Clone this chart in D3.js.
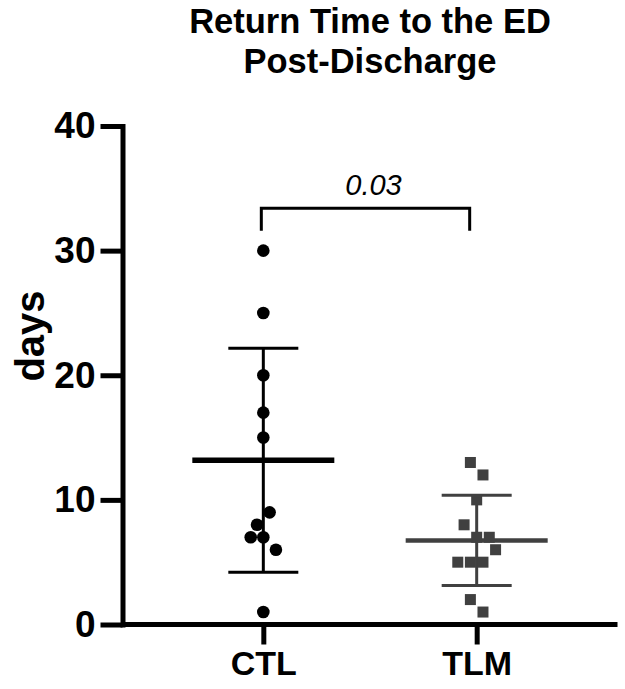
<!DOCTYPE html>
<html>
<head>
<meta charset="utf-8">
<script src="https://cdn.jsdelivr.net/npm/d3@7"></script>
<style>
  html, body { margin: 0; padding: 0; background: #fff; }
  svg { display: block; font-family: "Liberation Sans", Arial, sans-serif; }
</style>
</head>
<body>
<svg id="chart" width="625" height="689"></svg>
<script>
// ---- data ----
const categories = ["CTL", "TLM"];
const ctlValues = [30, 25, 20, 17, 15, 9, 8, 7, 7, 6, 1];
const tlmValues = [13, 12, 10, 8, 7, 7, 6, 5, 5, 5, 2, 1];
// horizontal dodge slots of the scatter points (as laid out in the reference)
const ctlSlots = [0, 0, 0, 0, 0, 1, -1, -2, 0, 2, 0];
const tlmSlots = [-1, 1, 0, -2, 0, 2, 3, -3, -1, 1, -1, 1];
const yTicks = [0, 10, 20, 30, 40];
const titleLines = ["Return Time to the ED", "Post-Discharge"];
const yLabel = "days";
const pValue = "0.03";
const bracketLevel = 33.4;   // in days
const bracketLeg = 31.6;     // in days

// ---- layout ----
const svg = d3.select("#chart");
const axisX = 122.5, axisY = 624.5, topY = 126, rightX = 617.5;

const y = d3.scaleLinear().domain([0, 40]).range([axisY, topY]);
const x = d3.scalePoint().domain(categories).range([axisX, rightX]).padding(0.66);
const slotW = 6.3;

// title (two separate lines)
svg.selectAll("text.title").data(titleLines).join("text")
  .attr("class", "title")
  .attr("x", 370).attr("y", (d, i) => 33 + i * 40)
  .attr("text-anchor", "middle")
  .style("font-size", "34.5px").style("font-weight", "bold")
  .text(d => d);

// y axis
const yAxis = svg.append("g")
  .attr("transform", `translate(${axisX},0)`)
  .call(d3.axisLeft(y).tickValues(yTicks).tickSize(22).tickSizeOuter(0).tickPadding(5));
yAxis.select(".domain").attr("stroke", "#000").attr("stroke-width", 5).attr("stroke-linecap", "square");
yAxis.selectAll(".tick line").attr("stroke", "#000").attr("stroke-width", 5);
yAxis.selectAll(".tick text")
  .style("font-size", "37px").style("font-weight", "bold")
  .style("font-family", "'Liberation Sans', Arial, sans-serif").attr("fill", "#000");

// x axis
const xAxis = svg.append("g")
  .attr("transform", `translate(0,${axisY})`)
  .call(d3.axisBottom(x).tickSize(20).tickSizeOuter(0).tickPadding(6));
xAxis.select(".domain").attr("stroke", "#000").attr("stroke-width", 5)
  .attr("d", `M${axisX},0H${rightX}`);
xAxis.selectAll(".tick line").attr("stroke", "#000").attr("stroke-width", 5);
xAxis.selectAll(".tick text")
  .style("font-size", "34px").style("font-weight", "bold")
  .style("font-family", "'Liberation Sans', Arial, sans-serif").attr("fill", "#000");

// y label
svg.append("text")
  .attr("transform", `translate(44,336) rotate(-90)`)
  .attr("text-anchor", "middle")
  .style("font-size", "40px").style("font-weight", "bold")
  .text(yLabel);

// groups
const groups = [
  { name: "CTL", values: ctlValues, slots: ctlSlots, color: "#000", shape: "circle", meanW: 5.5 },
  { name: "TLM", values: tlmValues, slots: tlmSlots, color: "#404040", shape: "square", meanW: 4.5 }
];

groups.forEach(g => {
  const cx = x(g.name);
  const m = d3.mean(g.values);
  const sd = d3.deviation(g.values);
  const gg = svg.append("g");
  // error bar
  gg.append("line").attr("x1", cx).attr("x2", cx).attr("y1", y(m + sd)).attr("y2", y(m - sd))
    .attr("stroke", g.color).attr("stroke-width", 3);
  [m + sd, m - sd].forEach(v => {
    gg.append("line").attr("x1", cx - 35).attr("x2", cx + 35).attr("y1", y(v)).attr("y2", y(v))
      .attr("stroke", g.color).attr("stroke-width", 3);
  });
  // points
  g.values.forEach((v, i) => {
    const px = cx + g.slots[i] * slotW;
    if (g.shape === "circle") {
      gg.append("circle").attr("cx", px).attr("cy", y(v)).attr("r", 6.3).attr("fill", g.color);
    } else {
      gg.append("rect").attr("x", px - 5.5).attr("y", y(v) - 5.5)
        .attr("width", 11).attr("height", 11).attr("fill", g.color);
    }
  });
  // mean line
  gg.append("line").attr("x1", cx - 71).attr("x2", cx + 71).attr("y1", y(m)).attr("y2", y(m))
    .attr("stroke", g.color).attr("stroke-width", g.meanW);
});

// significance bracket
const bx1 = x("CTL") - 2, bx2 = x("TLM") - 7;
svg.append("path")
  .attr("d", `M${bx1},${y(bracketLeg)}V${y(bracketLevel)}H${bx2}V${y(bracketLeg)}`)
  .attr("fill", "none").attr("stroke", "#000").attr("stroke-width", 3);
svg.append("text")
  .attr("x", (bx1 + bx2) / 2 + 8).attr("y", 195)
  .attr("text-anchor", "middle")
  .style("font-size", "29px").style("font-style", "italic")
  .text(pValue);
</script>
</body>
</html>
